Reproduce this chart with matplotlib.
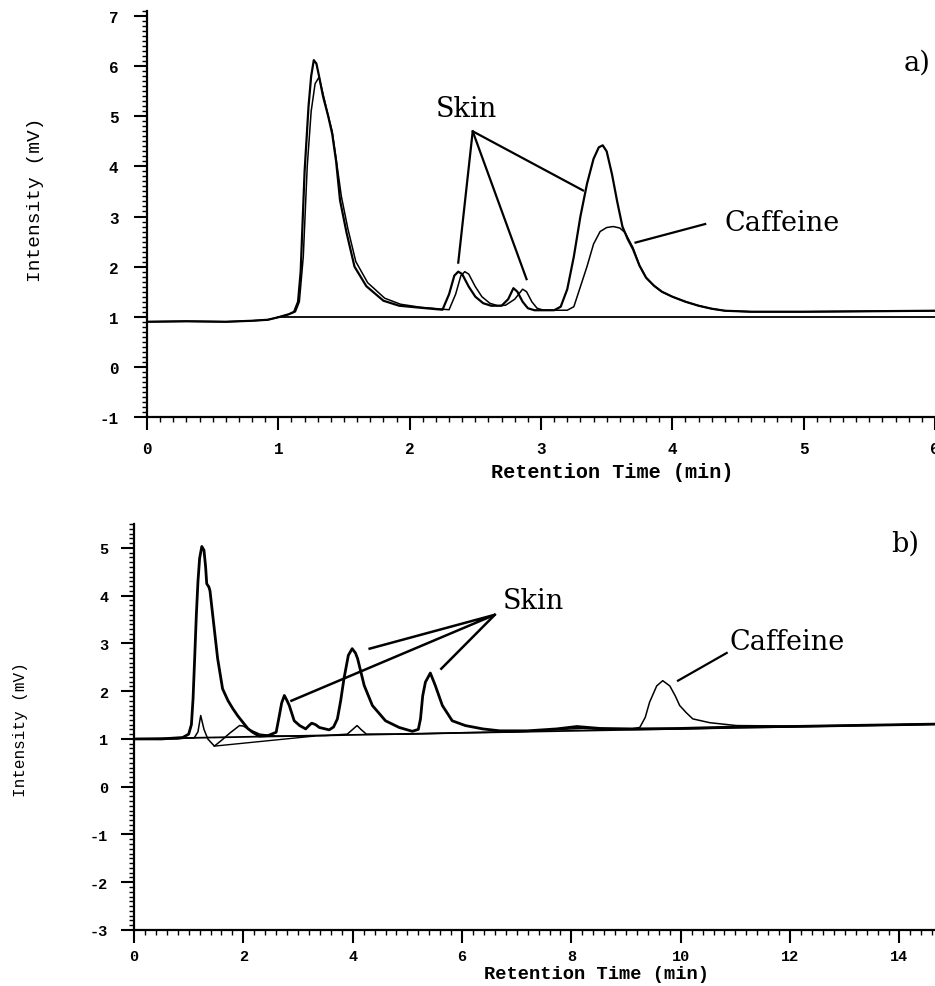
import matplotlib
matplotlib.use("Agg")
import matplotlib.pyplot as plt
from matplotlib.ticker import MultipleLocator

plt.rcParams["axes.unicode_minus"] = False

# ---------------- data: panel a ----------------
a_x1 = [0, 0.3, 0.6, 0.8, 0.92, 1.0, 1.08, 1.12, 1.15, 1.17, 1.2, 1.23, 1.25, 1.27, 1.29, 1.31,
        1.34, 1.38, 1.41, 1.44, 1.47, 1.52, 1.58, 1.67, 1.8, 1.92, 2.08, 2.25, 2.3, 2.34, 2.37,
        2.4, 2.45, 2.5, 2.56, 2.62, 2.7, 2.75, 2.79, 2.82, 2.86, 2.9, 2.95, 3.05, 3.1, 3.15, 3.2,
        3.25, 3.3, 3.35, 3.4, 3.44, 3.47, 3.5, 3.54, 3.58, 3.62, 3.66, 3.7, 3.75, 3.8, 3.86, 3.92,
        4.0, 4.1, 4.2, 4.3, 4.4, 4.6, 5.0, 5.5, 6.0]
a_y1 = [0.9, 0.91, 0.9, 0.92, 0.94, 0.99, 1.05, 1.1, 1.3, 1.9, 3.9, 5.2, 5.8, 6.12, 6.05, 5.8,
        5.4, 5.0, 4.65, 4.1, 3.32, 2.67, 2.0, 1.61, 1.32, 1.22, 1.18, 1.14, 1.45, 1.82, 1.9,
        1.85, 1.6, 1.4, 1.27, 1.22, 1.22, 1.35, 1.57, 1.5, 1.3, 1.17, 1.13, 1.13, 1.13, 1.2, 1.55,
        2.2, 3.0, 3.65, 4.15, 4.38, 4.42, 4.3, 3.85, 3.3, 2.8, 2.55, 2.35, 2.02, 1.78, 1.62, 1.5,
        1.4, 1.3, 1.22, 1.16, 1.12, 1.1, 1.1, 1.11, 1.12]
a_x2 = [0, 0.3, 0.6, 0.8, 0.92, 1.0, 1.08, 1.13, 1.16, 1.19, 1.22, 1.25, 1.28, 1.31, 1.34, 1.38,
        1.41, 1.44, 1.48, 1.53, 1.59, 1.68, 1.81, 1.93, 2.08, 2.3, 2.35, 2.39, 2.42, 2.45, 2.5,
        2.55, 2.61, 2.67, 2.73, 2.8, 2.86, 2.89, 2.93, 2.97, 3.02, 3.1, 3.2, 3.25, 3.3, 3.35, 3.4,
        3.45, 3.5, 3.55, 3.6, 3.64, 3.7, 3.75, 3.8, 3.86, 3.92, 4.0, 4.1, 4.2, 4.3, 4.4, 4.6,
        5.0, 5.5, 6.0]
a_y2 = [0.9, 0.91, 0.9, 0.92, 0.94, 0.99, 1.05, 1.1, 1.3, 2.2, 4.0, 5.1, 5.65, 5.78, 5.45, 5.0,
        4.7, 4.15, 3.4, 2.75, 2.1, 1.68, 1.37, 1.25, 1.19, 1.14, 1.45, 1.82, 1.9, 1.85, 1.6,
        1.4, 1.27, 1.22, 1.23, 1.35, 1.55, 1.5, 1.3, 1.17, 1.13, 1.13, 1.13, 1.2, 1.6, 2.0, 2.45,
        2.7, 2.78, 2.8, 2.77, 2.68, 2.38, 2.02, 1.78, 1.62, 1.5, 1.4, 1.3, 1.22, 1.16, 1.12, 1.1,
        1.1, 1.11, 1.12]
a_base_x = [1.0, 6.0]
a_base_y = [1.0, 1.0]

# ---------------- data: panel b ----------------
b_x1 = [0, 0.5, 0.89, 1.0, 1.05, 1.08, 1.11, 1.14, 1.17, 1.2, 1.24, 1.28, 1.31, 1.33, 1.37,
        1.39, 1.44, 1.53, 1.62, 1.72, 1.81, 1.9, 1.99, 2.08, 2.17, 2.29, 2.45, 2.6, 2.66, 2.7,
        2.75, 2.8, 2.84, 2.93, 3.03, 3.14, 3.2, 3.25, 3.32, 3.39, 3.57, 3.65, 3.72, 3.78, 3.84,
        3.92, 3.99, 4.05, 4.09, 4.21, 4.36, 4.6, 4.85, 5.09, 5.2, 5.24, 5.28, 5.33, 5.42, 5.51,
        5.64, 5.82, 6.06, 6.38, 6.69, 7.2, 7.73, 8.1, 8.52, 9.12, 10.0, 11.0, 12.0, 13.0, 14.65]
b_y1 = [1.0, 1.0, 1.03, 1.1, 1.3, 1.84, 2.7, 3.59, 4.3, 4.78, 5.03, 4.95, 4.6, 4.25, 4.18,
        4.1, 3.59, 2.68, 2.05, 1.8, 1.63, 1.48, 1.35, 1.22, 1.14, 1.06, 1.07, 1.14, 1.5, 1.75,
        1.91, 1.8, 1.7, 1.38, 1.28, 1.21, 1.28, 1.33, 1.3, 1.24, 1.19, 1.25, 1.42, 1.8, 2.26,
        2.75, 2.89, 2.8, 2.68, 2.12, 1.7, 1.38, 1.24, 1.16, 1.2, 1.42, 1.9, 2.19, 2.38, 2.12,
        1.7, 1.38, 1.28, 1.21, 1.17, 1.17, 1.21, 1.26, 1.22, 1.21, 1.22, 1.25, 1.26, 1.28, 1.31]
b_x2 = [0, 0.8, 0.95, 1.1, 1.17, 1.22, 1.28, 1.35, 1.47, 1.6, 1.75, 1.93, 2.0, 2.1, 2.3, 2.6,
        3.0, 3.5, 3.9, 4.0, 4.08, 4.15, 4.25, 5.0, 6.0, 7.0, 7.8, 8.2, 8.6, 9.1, 9.25, 9.35,
        9.43, 9.56, 9.67, 9.8, 9.9, 9.98, 10.1, 10.22, 10.53, 11.02, 12.0, 13.0, 14.65]
b_y2 = [1.0, 1.0, 1.02, 1.02, 1.15, 1.49, 1.2, 1.0, 0.85, 0.97, 1.12, 1.28, 1.27, 1.2, 1.1,
        1.06, 1.06, 1.07, 1.1, 1.2, 1.28, 1.2, 1.1, 1.1, 1.13, 1.15, 1.2, 1.22, 1.2, 1.21, 1.24,
        1.45, 1.77, 2.11, 2.22, 2.11, 1.9, 1.7, 1.55, 1.42, 1.34, 1.28, 1.27, 1.28, 1.31]
b_base_x = [0, 14.65]
b_base_y = [1.0, 1.31]
b_base2_x = [1.47, 3.3]
b_base2_y = [0.85, 1.06]

MONO = "Liberation Mono"
SERIF = "DejaVu Serif"
ANN_FS = 19.5

fig = plt.figure(figsize=(9.35, 9.87), dpi=100)
axa = fig.add_axes([147/935, 1-418/987, 1-147/935, (418-12)/987])
axb = fig.add_axes([134/935, 1-931/987, 1-134/935, (931-525)/987])


def style(ax, xmaj, xmin, ymin, fs, xpad, ypad):
    for s in ("top", "right"):
        ax.spines[s].set_visible(False)
    for s in ("left", "bottom"):
        ax.spines[s].set_linewidth(1.6)
    ax.xaxis.set_major_locator(MultipleLocator(xmaj))
    ax.xaxis.set_minor_locator(MultipleLocator(xmin))
    ax.yaxis.set_major_locator(MultipleLocator(1))
    ax.yaxis.set_minor_locator(MultipleLocator(ymin))
    ax.tick_params(which="major", direction="out", length=9.5, width=1.5)
    ax.tick_params(axis="x", which="major", pad=xpad)
    ax.tick_params(axis="y", which="major", pad=ypad)
    ax.tick_params(which="minor", direction="out", length=3.5, width=1.0)
    for lab in ax.get_xticklabels() + ax.get_yticklabels():
        lab.set_fontfamily(MONO)
        lab.set_fontweight("bold")
        lab.set_fontsize(fs)


# ---- panel a ----
axa.plot(a_x2, a_y2, color="black", lw=1.1)
axa.plot(a_x1, a_y1, color="black", lw=1.6)
axa.plot(a_base_x, a_base_y, color="black", lw=1.3)
axa.set_xlim(0, 6)
axa.set_ylim(-1, 7.1)
style(axa, 1, 0.1, 0.1, 11.5, 8, 11)
axa.set_xlabel("Retention Time (min)", fontfamily=MONO, fontweight="bold", fontsize=14.5)
axa.xaxis.set_label_coords(0.59, -0.11)
axa.set_ylabel("Intensity (mV)", fontfamily=MONO, fontsize=14)
axa.yaxis.set_label_coords(-0.131, 0.537)

axa.plot([2.37, 2.48, 3.32], [2.08, 4.70, 3.52], color="black", lw=1.6)
axa.plot([2.48, 2.89], [4.70, 1.75], color="black", lw=1.6)
axa.plot([4.25, 3.72], [2.85, 2.48], color="black", lw=1.6)
axa.text(2.43, 5.15, "Skin", fontfamily=SERIF, fontsize=ANN_FS, ha="center", va="center")
axa.text(4.40, 2.89, "Caffeine", fontfamily=SERIF, fontsize=ANN_FS, ha="left", va="center")
axa.text(5.86, 6.08, "a)", fontfamily=SERIF, fontsize=ANN_FS, ha="center", va="center")

# ---- panel b ----
axb.plot(b_x2, b_y2, color="black", lw=1.1)
axb.plot(b_x1, b_y1, color="black", lw=2.0)
axb.plot(b_base_x, b_base_y, color="black", lw=1.3)
axb.plot(b_base2_x, b_base2_y, color="black", lw=1.0)
axb.set_xlim(0, 14.65)
axb.set_ylim(-3, 5.5)
style(axb, 2, 0.2, 0.1, 11, 4.5, 9)
axb.set_xlabel("Retention Time (min)", fontfamily=MONO, fontweight="bold", fontsize=13.5)
axb.xaxis.set_label_coords(0.578, -0.086)
axb.set_ylabel("Intensity (mV)", fontfamily=MONO, fontsize=11.5)
axb.yaxis.set_label_coords(-0.1325, 0.495)

axb.plot([2.88, 6.6, 4.31], [1.80, 3.6, 2.89], color="black", lw=1.8)
axb.plot([6.6, 5.62], [3.6, 2.47], color="black", lw=1.8)
axb.plot([10.84, 9.95], [2.80, 2.22], color="black", lw=1.6)
axb.text(7.31, 3.89, "Skin", fontfamily=SERIF, fontsize=ANN_FS, ha="center", va="center")
axb.text(10.9, 3.05, "Caffeine", fontfamily=SERIF, fontsize=ANN_FS, ha="left", va="center")
axb.text(14.1, 5.09, "b)", fontfamily=SERIF, fontsize=ANN_FS, ha="center", va="center")

fig.savefig("out.png", dpi=100)
